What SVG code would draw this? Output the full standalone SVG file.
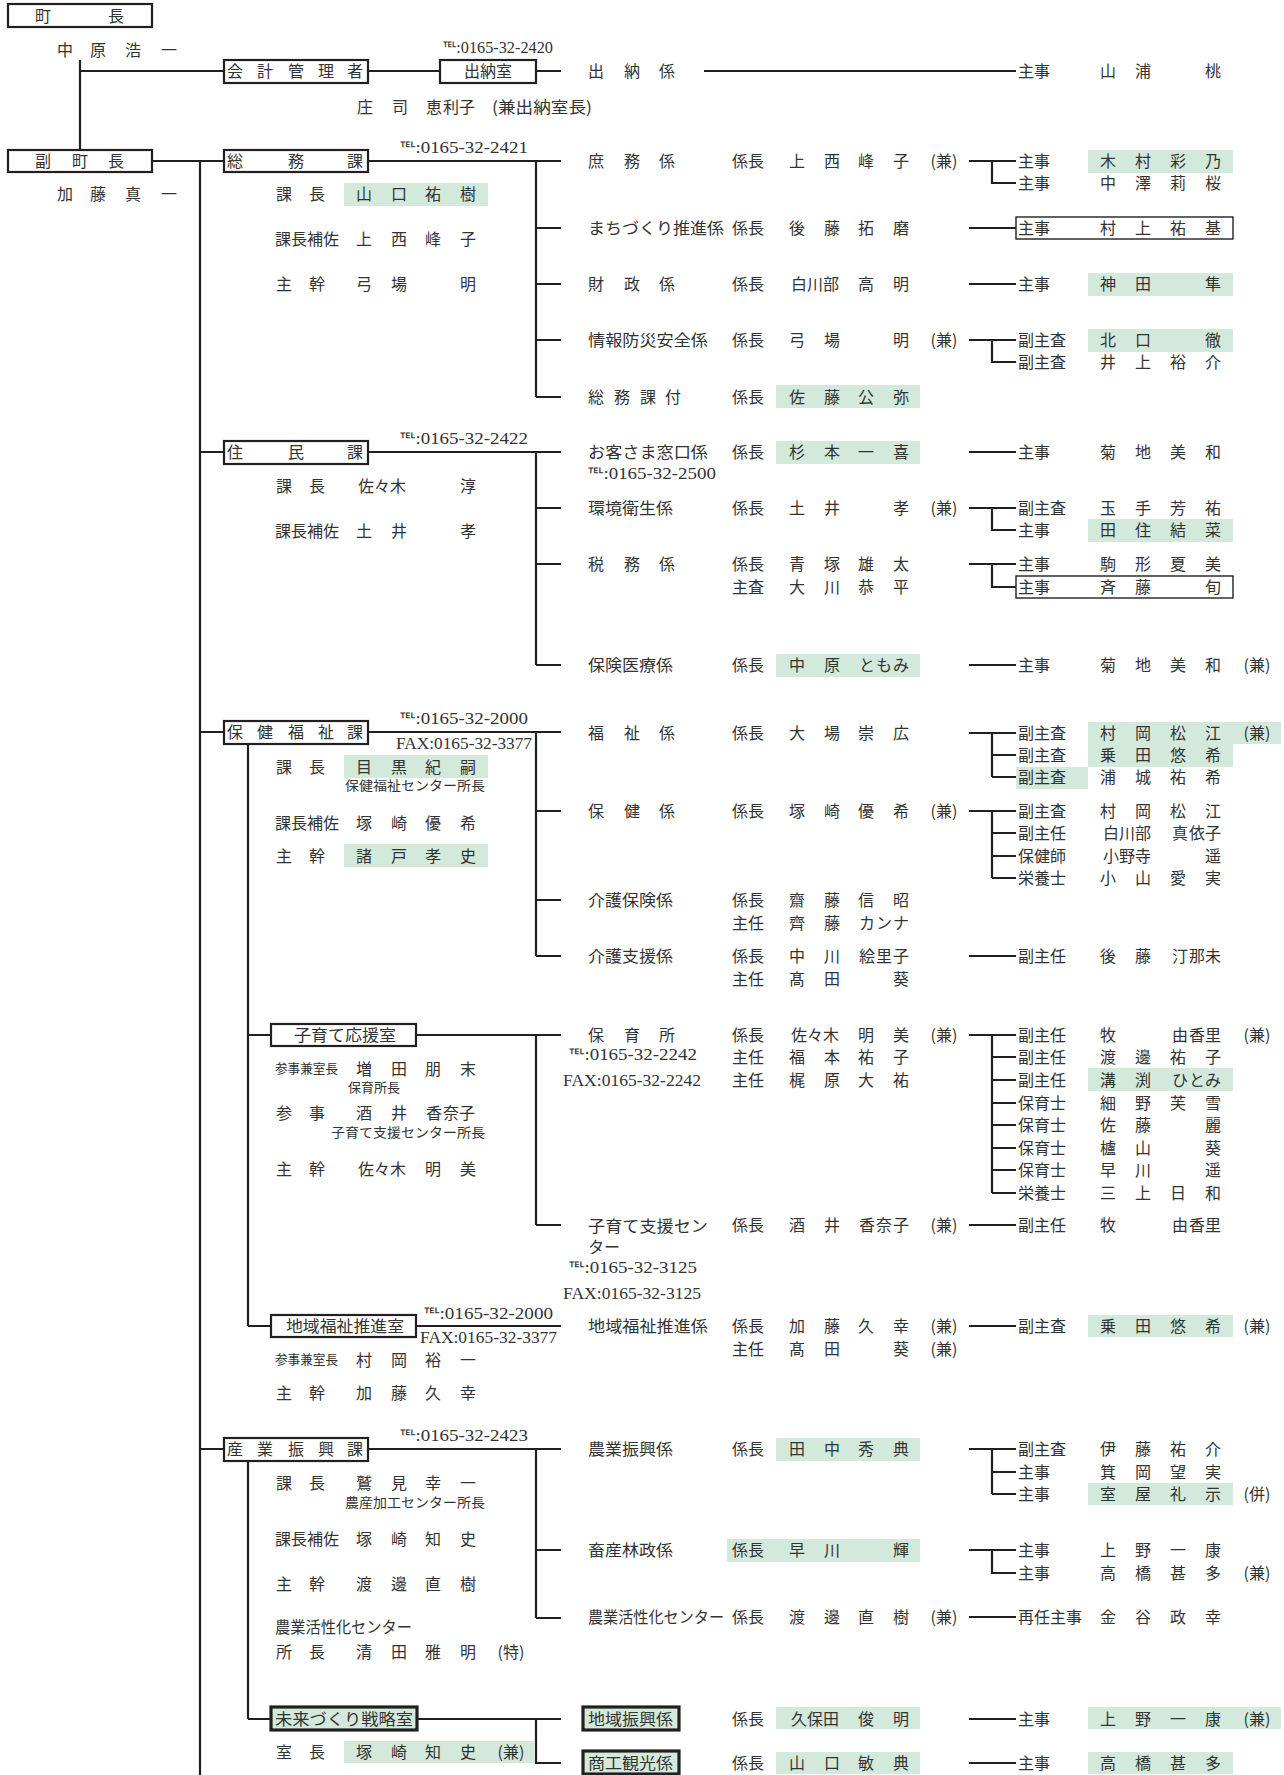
<svg xmlns="http://www.w3.org/2000/svg" width="1284" height="1775" viewBox="0 0 1284 1775">
<style>
.t{font-family:"Noto Sans CJK JP","Noto Sans CJK SC",sans-serif;font-size:16px;fill:#333;text-anchor:middle;dominant-baseline:central;transform:translateY(-1.5px)}
.l{text-anchor:start}
.s{font-size:13px}
.tel{font-family:"Liberation Serif","DejaVu Serif",serif;font-size:16px;fill:#333;text-anchor:start;dominant-baseline:central}
.ln{stroke:#231f20;stroke-width:2.2;fill:none}
.bx{fill:#fff;stroke:#231f20;stroke-width:2.2}
.gb{fill:#d3e9dc;stroke:#231f20;stroke-width:3.2}
.hl{fill:#d3e9dc}
.tb{fill:none;stroke:#231f20;stroke-width:1.4}
</style>
<rect width="1284" height="1775" fill="#fff"/>

<g id="connectors">
<path class="ln" d="M80 60V150M80 71H224M368 71H440M536 71H561M704 71H1016"/>
<path class="ln" d="M152 161H224M200 161V1775"/>
<path class="ln" d="M368 161H561M536 161V397M536 228H561M536 284H561M536 340H561M536 397H561"/>
<path class="ln" d="M200 452H224M368 452H561M536 452V665M536 508H561M536 564H561M536 665H561"/>
<path class="ln" d="M200 732H224M368 732H561M536 732V956M536 811H561M536 900H561M536 956H561"/>
<path class="ln" d="M248 744V1326M248 1035H271M248 1326H271"/>
<path class="ln" d="M416 1035H561M536 1035V1225M536 1225H561"/>
<path class="ln" d="M416 1326H561"/>
<path class="ln" d="M200 1449H224M368 1449H561M536 1449V1618M536 1550H561M536 1618H561"/>
<path class="ln" d="M248 1461V1719M248 1719H271M417 1719H561M536 1719V1763H561"/>
<path class="ln" d="M969 161H1016M992 161V183H1016"/>
<path class="ln" d="M969 228H1016M969 284H1016"/>
<path class="ln" d="M969 340H1016M992 340V362H1016"/>
<path class="ln" d="M969 452H1016"/>
<path class="ln" d="M969 508H1016M992 508V530H1016"/>
<path class="ln" d="M969 564H1016M992 564V587H1016"/>
<path class="ln" d="M969 665H1016"/>
<path class="ln" d="M969 733H1016M992 733V777M992 755H1016M992 777H1016"/>
<path class="ln" d="M969 811H1016M992 811V878M992 833H1016M992 856H1016M992 878H1016"/>
<path class="ln" d="M969 956H1016"/>
<path class="ln" d="M969 1035H1016M992 1035V1193M992 1057H1016M992 1080H1016M992 1103H1016M992 1125H1016M992 1148H1016M992 1170H1016M992 1193H1016"/>
<path class="ln" d="M969 1225H1016M969 1326H1016"/>
<path class="ln" d="M969 1449H1016M992 1449V1494M992 1472H1016M992 1494H1016"/>
<path class="ln" d="M969 1550H1016M992 1550V1573H1016"/>
<path class="ln" d="M969 1617H1016M969 1719H1016M969 1763H1016"/>
</g>

<g id="chocho">
<rect class="bx" x="8" y="4" width="144" height="23"/>
<text class="t" x="43 116" y="16">町長</text>
<text class="t" x="65 98 133 169" y="50">中原浩一</text>
</g>

<g id="fukuchocho">
<rect class="bx" x="8" y="150" width="144" height="22"/>
<text class="t" x="43 80 116" y="161">副町長</text>
<text class="t" x="65 98 133 169" y="194">加藤真一</text>
</g>

<g id="kaikei">
<rect class="bx" x="224" y="60" width="144" height="23"/>
<text class="t" x="235 265 296 326 355" y="71">会計管理者</text>
<text class="t" x="365 400 434 451 467" y="107">庄司恵利子</text>
<text class="t l" x="492" y="107" textLength="100" lengthAdjust="spacingAndGlyphs">(兼出納室長)</text>
</g>

<g id="suitoushitsu">
<rect class="bx" x="440" y="60" width="96" height="23"/>
<text class="t" x="488" y="71">出納室</text>
<text class="tel" x="443" y="47" font-size="14" textLength="110" lengthAdjust="spacingAndGlyphs">℡:0165-32-2420</text>
</g>

<g id="suitougakari">
<text class="t" x="596 632 667" y="71">出納係</text>
<text class="t" x="1026 1042" y="71">主事</text>
<text class="t" x="1108 1143 1213" y="71">山浦桃</text>
</g>

<g id="somuka">
<rect class="bx" x="224" y="150" width="144" height="22"/>
<text class="t" x="235 296 355" y="161">総務課</text>
<text class="tel" x="400" y="147" textLength="128" lengthAdjust="spacingAndGlyphs">℡:0165-32-2421</text>
<rect class="hl" x="344" y="183" width="144" height="23"/>
<text class="t" x="284 317" y="194">課長</text>
<text class="t" x="364 399 433 468" y="194">山口祐樹</text>
<text class="t" x="283 299 315 331" y="239">課長補佐</text>
<text class="t" x="364 399 433 468" y="239">上西峰子</text>
<text class="t" x="284 317" y="284">主幹</text>
<text class="t" x="364 399 468" y="284">弓場明</text>
</g>

<g id="shomu">
<rect class="hl" x="1088" y="150" width="145" height="23"/>
<text class="t" x="596 632 667" y="161">庶務係</text>
<text class="t" x="740 756" y="161">係長</text>
<text class="t" x="797 832 866 901" y="161">上西峰子</text>
<text class="t" x="944" y="161">(兼)</text>
<text class="t" x="1026 1042" y="161">主事</text>
<text class="t" x="1108 1143 1178 1213" y="161">木村彩乃</text>
<text class="t" x="1026 1042" y="183">主事</text>
<text class="t" x="1108 1143 1178 1213" y="183">中澤莉桜</text>
</g>

<g id="machizukuri">
<text class="t l" x="588" y="228" textLength="136" lengthAdjust="spacingAndGlyphs">まちづくり推進係</text>
<text class="t" x="740 756" y="228">係長</text>
<text class="t" x="797 832 866 901" y="228">後藤拓磨</text>
<rect class="tb" x="1016" y="217" width="217" height="22"/>
<text class="t" x="1026 1042" y="228">主事</text>
<text class="t" x="1108 1143 1178 1213" y="228">村上祐基</text>
</g>

<g id="zaisei">
<rect class="hl" x="1088" y="273" width="145" height="23"/>
<text class="t" x="596 632 667" y="284">財政係</text>
<text class="t" x="740 756" y="284">係長</text>
<text class="t" x="799 815 831 866 901" y="284">白川部高明</text>
<text class="t" x="1026 1042" y="284">主事</text>
<text class="t" x="1108 1143 1213" y="284">神田隼</text>
</g>

<g id="johobosai">
<rect class="hl" x="1088" y="329" width="145" height="23"/>
<text class="t l" x="588" y="340" textLength="120" lengthAdjust="spacingAndGlyphs">情報防災安全係</text>
<text class="t" x="740 756" y="340">係長</text>
<text class="t" x="797 832 901" y="340">弓場明</text>
<text class="t" x="944" y="340">(兼)</text>
<text class="t" x="1026 1042 1058" y="340">副主査</text>
<text class="t" x="1108 1143 1213" y="340">北口徹</text>
<text class="t" x="1026 1042 1058" y="362">副主査</text>
<text class="t" x="1108 1143 1178 1213" y="362">井上裕介</text>
</g>

<g id="somukatsuki">
<rect class="hl" x="776" y="385" width="144" height="23"/>
<text class="t" x="596 622 648 673" y="397">総務課付</text>
<text class="t" x="740 756" y="397">係長</text>
<text class="t" x="797 832 866 901" y="397">佐藤公弥</text>
</g>

<g id="juminka">
<rect class="bx" x="224" y="441" width="144" height="23"/>
<text class="t" x="235 296 355" y="452">住民課</text>
<text class="tel" x="400" y="438" textLength="128" lengthAdjust="spacingAndGlyphs">℡:0165-32-2422</text>
<text class="t" x="284 317" y="486">課長</text>
<text class="t" x="366 382 398 468" y="486">佐々木淳</text>
<text class="t" x="283 299 315 331" y="531">課長補佐</text>
<text class="t" x="364 399 468" y="531">土井孝</text>
</g>

<g id="okyakusama">
<rect class="hl" x="776" y="441" width="144" height="23"/>
<text class="t l" x="588" y="452" textLength="120" lengthAdjust="spacingAndGlyphs">お客さま窓口係</text>
<text class="tel" x="588" y="473" textLength="128" lengthAdjust="spacingAndGlyphs">℡:0165-32-2500</text>
<text class="t" x="740 756" y="452">係長</text>
<text class="t" x="797 832 866 901" y="452">杉本一喜</text>
<text class="t" x="1026 1042" y="452">主事</text>
<text class="t" x="1108 1143 1178 1213" y="452">菊地美和</text>
</g>

<g id="kankyo">
<rect class="hl" x="1088" y="519" width="145" height="23"/>
<text class="t l" x="588" y="508" textLength="85" lengthAdjust="spacingAndGlyphs">環境衛生係</text>
<text class="t" x="740 756" y="508">係長</text>
<text class="t" x="797 832 901" y="508">土井孝</text>
<text class="t" x="944" y="508">(兼)</text>
<text class="t" x="1026 1042 1058" y="508">副主査</text>
<text class="t" x="1108 1143 1178 1213" y="508">玉手芳祐</text>
<text class="t" x="1026 1042" y="530">主事</text>
<text class="t" x="1108 1143 1178 1213" y="530">田住結菜</text>
</g>

<g id="zeimu">
<text class="t" x="596 632 667" y="564">税務係</text>
<text class="t" x="740 756" y="564">係長</text>
<text class="t" x="797 832 866 901" y="564">青塚雄太</text>
<text class="t" x="740 756" y="587">主査</text>
<text class="t" x="797 832 866 901" y="587">大川恭平</text>
<text class="t" x="1026 1042" y="564">主事</text>
<text class="t" x="1108 1143 1178 1213" y="564">駒形夏美</text>
<rect class="tb" x="1016" y="576" width="217" height="22"/>
<text class="t" x="1026 1042" y="587">主事</text>
<text class="t" x="1108 1143 1213" y="587">斉藤旬</text>
</g>

<g id="hokeniryo">
<rect class="hl" x="776" y="654" width="144" height="23"/>
<text class="t l" x="588" y="665" textLength="85" lengthAdjust="spacingAndGlyphs">保険医療係</text>
<text class="t" x="740 756" y="665">係長</text>
<text class="t" x="797 832 867 884 901" y="665">中原ともみ</text>
<text class="t" x="1026 1042" y="665">主事</text>
<text class="t" x="1108 1143 1178 1213" y="665">菊地美和</text>
<text class="t" x="1257" y="665">(兼)</text>
</g>

<g id="hokenfukushika">
<rect class="bx" x="224" y="721" width="144" height="23"/>
<text class="t" x="235 265 296 326 355" y="732">保健福祉課</text>
<text class="tel" x="400" y="718" textLength="128" lengthAdjust="spacingAndGlyphs">℡:0165-32-2000</text>
<text class="tel" x="396" y="743" textLength="136" lengthAdjust="spacingAndGlyphs">FAX:0165-32-3377</text>
<rect class="hl" x="344" y="755" width="144" height="23"/>
<text class="t" x="284 317" y="767">課長</text>
<text class="t" x="364 399 433 468" y="767">目黒紀嗣</text>
<text class="t s l" x="345" y="786" textLength="140" lengthAdjust="spacingAndGlyphs">保健福祉センター所長</text>
<text class="t" x="283 299 315 331" y="823">課長補佐</text>
<text class="t" x="364 399 433 468" y="823">塚崎優希</text>
<rect class="hl" x="344" y="844" width="144" height="23"/>
<text class="t" x="284 317" y="856">主幹</text>
<text class="t" x="364 399 433 468" y="856">諸戸孝史</text>
</g>

<g id="fukushi">
<rect class="hl" x="1088" y="722" width="193" height="22"/>
<rect class="hl" x="1088" y="744" width="145" height="23"/>
<rect class="hl" x="1016" y="767" width="72" height="22"/>
<text class="t" x="596 632 667" y="733">福祉係</text>
<text class="t" x="740 756" y="733">係長</text>
<text class="t" x="797 832 866 901" y="733">大場崇広</text>
<text class="t" x="1026 1042 1058" y="733">副主査</text>
<text class="t" x="1108 1143 1178 1213" y="733">村岡松江</text>
<text class="t" x="1257" y="733">(兼)</text>
<text class="t" x="1026 1042 1058" y="755">副主査</text>
<text class="t" x="1108 1143 1178 1213" y="755">乗田悠希</text>
<text class="t" x="1026 1042 1058" y="777">副主査</text>
<text class="t" x="1108 1143 1178 1213" y="777">浦城祐希</text>
</g>

<g id="hoken">
<text class="t" x="596 632 667" y="811">保健係</text>
<text class="t" x="740 756" y="811">係長</text>
<text class="t" x="797 832 866 901" y="811">塚崎優希</text>
<text class="t" x="944" y="811">(兼)</text>
<text class="t" x="1026 1042 1058" y="811">副主査</text>
<text class="t" x="1108 1143 1178 1213" y="811">村岡松江</text>
<text class="t" x="1026 1042 1058" y="833">副主任</text>
<text class="t" x="1111 1127 1143 1180 1197 1213" y="833">白川部真依子</text>
<text class="t" x="1026 1042 1058" y="856">保健師</text>
<text class="t" x="1111 1127 1143 1213" y="856">小野寺遥</text>
<text class="t" x="1026 1042 1058" y="878">栄養士</text>
<text class="t" x="1108 1143 1178 1213" y="878">小山愛実</text>
</g>

<g id="kaigohoken">
<text class="t l" x="588" y="900" textLength="85" lengthAdjust="spacingAndGlyphs">介護保険係</text>
<text class="t" x="740 756" y="900">係長</text>
<text class="t" x="797 832 866 901" y="900">齋藤信昭</text>
<text class="t" x="740 756" y="923">主任</text>
<text class="t" x="797 832 867 884 901" y="923">齊藤カンナ</text>
</g>

<g id="kaigoshien">
<text class="t l" x="588" y="956" textLength="85" lengthAdjust="spacingAndGlyphs">介護支援係</text>
<text class="t" x="740 756" y="956">係長</text>
<text class="t" x="797 832 867 884 901" y="956">中川絵里子</text>
<text class="t" x="740 756" y="979">主任</text>
<text class="t" x="797 832 901" y="979">髙田葵</text>
<text class="t" x="1026 1042 1058" y="956">副主任</text>
<text class="t" x="1108 1143 1180 1197 1213" y="956">後藤汀那未</text>
</g>

<g id="kosodate">
<rect class="bx" x="271" y="1024" width="145" height="22"/>
<text class="t l" x="294" y="1035" textLength="102" lengthAdjust="spacingAndGlyphs">子育て応援室</text>
<text class="t s l" x="275" y="1069" font-size="12" textLength="63" lengthAdjust="spacingAndGlyphs">参事兼室長</text>
<text class="t" x="364 399 433 468" y="1069">増田朋末</text>
<text class="t s" x="374" y="1088">保育所長</text>
<text class="t" x="284 317" y="1113">参事</text>
<text class="t" x="364 399 434 451 467" y="1113">酒井香奈子</text>
<text class="t s l" x="331" y="1133" textLength="154" lengthAdjust="spacingAndGlyphs">子育て支援センター所長</text>
<text class="t" x="284 317" y="1169">主幹</text>
<text class="t" x="366 382 398 433 468" y="1169">佐々木明美</text>
</g>

<g id="hoikusho">
<rect class="hl" x="1088" y="1068" width="145" height="23"/>
<text class="t" x="596 632 667" y="1035">保育所</text>
<text class="tel" x="569" y="1054" textLength="128" lengthAdjust="spacingAndGlyphs">℡:0165-32-2242</text>
<text class="tel" x="563" y="1080" textLength="138" lengthAdjust="spacingAndGlyphs">FAX:0165-32-2242</text>
<text class="t" x="740 756" y="1035">係長</text>
<text class="t" x="799 815 831 866 901" y="1035">佐々木明美</text>
<text class="t" x="944" y="1035">(兼)</text>
<text class="t" x="740 756" y="1057">主任</text>
<text class="t" x="797 832 866 901" y="1057">福本祐子</text>
<text class="t" x="740 756" y="1080">主任</text>
<text class="t" x="797 832 866 901" y="1080">梶原大祐</text>
<text class="t" x="1026 1042 1058" y="1035">副主任</text>
<text class="t" x="1108 1180 1197 1213" y="1035">牧由香里</text>
<text class="t" x="1257" y="1035">(兼)</text>
<text class="t" x="1026 1042 1058" y="1057">副主任</text>
<text class="t" x="1108 1143 1178 1213" y="1057">渡邊祐子</text>
<text class="t" x="1026 1042 1058" y="1080">副主任</text>
<text class="t" x="1108 1143 1180 1197 1213" y="1080">溝渕ひとみ</text>
<text class="t" x="1026 1042 1058" y="1103">保育士</text>
<text class="t" x="1108 1143 1178 1213" y="1103">細野芙雪</text>
<text class="t" x="1026 1042 1058" y="1125">保育士</text>
<text class="t" x="1108 1143 1213" y="1125">佐藤麗</text>
<text class="t" x="1026 1042 1058" y="1148">保育士</text>
<text class="t" x="1108 1143 1213" y="1148">櫨山葵</text>
<text class="t" x="1026 1042 1058" y="1170">保育士</text>
<text class="t" x="1108 1143 1213" y="1170">早川遥</text>
<text class="t" x="1026 1042 1058" y="1193">栄養士</text>
<text class="t" x="1108 1143 1178 1213" y="1193">三上日和</text>
</g>

<g id="kosodateshien">
<text class="t l" x="588" y="1226" font-size="14.5" textLength="120" lengthAdjust="spacingAndGlyphs">子育て支援セン</text>
<text class="t l" x="588" y="1247" font-size="14.5">ター</text>
<text class="tel" x="569" y="1267" textLength="128" lengthAdjust="spacingAndGlyphs">℡:0165-32-3125</text>
<text class="tel" x="563" y="1293" textLength="138" lengthAdjust="spacingAndGlyphs">FAX:0165-32-3125</text>
<text class="t" x="740 756" y="1225">係長</text>
<text class="t" x="797 832 867 884 901" y="1225">酒井香奈子</text>
<text class="t" x="944" y="1225">(兼)</text>
<text class="t" x="1026 1042 1058" y="1225">副主任</text>
<text class="t" x="1108 1180 1197 1213" y="1225">牧由香里</text>
</g>

<g id="chiikifukushishitsu">
<rect class="bx" x="271" y="1315" width="145" height="22"/>
<text class="t l" x="286" y="1326" textLength="118" lengthAdjust="spacingAndGlyphs">地域福祉推進室</text>
<text class="tel" x="424" y="1313" textLength="129" lengthAdjust="spacingAndGlyphs">℡:0165-32-2000</text>
<text class="tel" x="420" y="1337" textLength="137" lengthAdjust="spacingAndGlyphs">FAX:0165-32-3377</text>
<text class="t s l" x="275" y="1360" font-size="12" textLength="63" lengthAdjust="spacingAndGlyphs">参事兼室長</text>
<text class="t" x="364 399 433 468" y="1360">村岡裕一</text>
<text class="t" x="284 317" y="1393">主幹</text>
<text class="t" x="364 399 433 468" y="1393">加藤久幸</text>
</g>

<g id="chiikifukushigakari">
<rect class="hl" x="1088" y="1315" width="145" height="22"/>
<text class="t l" x="588" y="1326" textLength="120" lengthAdjust="spacingAndGlyphs">地域福祉推進係</text>
<text class="t" x="740 756" y="1326">係長</text>
<text class="t" x="797 832 866 901" y="1326">加藤久幸</text>
<text class="t" x="944" y="1326">(兼)</text>
<text class="t" x="740 756" y="1349">主任</text>
<text class="t" x="797 832 901" y="1349">髙田葵</text>
<text class="t" x="944" y="1349">(兼)</text>
<text class="t" x="1026 1042 1058" y="1326">副主査</text>
<text class="t" x="1108 1143 1178 1213" y="1326">乗田悠希</text>
<text class="t" x="1257" y="1326">(兼)</text>
</g>

<g id="sangyoshinkoka">
<rect class="bx" x="224" y="1438" width="144" height="23"/>
<text class="t" x="235 265 296 326 355" y="1449">産業振興課</text>
<text class="tel" x="400" y="1435" textLength="128" lengthAdjust="spacingAndGlyphs">℡:0165-32-2423</text>
<text class="t" x="284 317" y="1483">課長</text>
<text class="t" x="364 399 433 468" y="1483">鷲見幸一</text>
<text class="t s l" x="345" y="1503" textLength="140" lengthAdjust="spacingAndGlyphs">農産加工センター所長</text>
<text class="t" x="283 299 315 331" y="1539">課長補佐</text>
<text class="t" x="364 399 433 468" y="1539">塚崎知史</text>
<text class="t" x="284 317" y="1584">主幹</text>
<text class="t" x="364 399 433 468" y="1584">渡邊直樹</text>
<text class="t l" x="275" y="1627" font-size="14.5" textLength="137" lengthAdjust="spacingAndGlyphs">農業活性化センター</text>
<text class="t" x="284 317" y="1652">所長</text>
<text class="t" x="364 399 433 468" y="1652">清田雅明</text>
<text class="t" x="511" y="1652">(特)</text>
</g>

<g id="nogyoshinko">
<rect class="hl" x="776" y="1438" width="144" height="23"/>
<rect class="hl" x="1088" y="1483" width="145" height="22"/>
<text class="t l" x="588" y="1449" textLength="85" lengthAdjust="spacingAndGlyphs">農業振興係</text>
<text class="t" x="740 756" y="1449">係長</text>
<text class="t" x="797 832 866 901" y="1449">田中秀典</text>
<text class="t" x="1026 1042 1058" y="1449">副主査</text>
<text class="t" x="1108 1143 1178 1213" y="1449">伊藤祐介</text>
<text class="t" x="1026 1042" y="1472">主事</text>
<text class="t" x="1108 1143 1178 1213" y="1472">箕岡望実</text>
<text class="t" x="1026 1042" y="1494">主事</text>
<text class="t" x="1108 1143 1178 1213" y="1494">室屋礼示</text>
<text class="t" x="1257" y="1494">(併)</text>
</g>

<g id="chikusanrinsei">
<rect class="hl" x="727" y="1539" width="193" height="23"/>
<text class="t l" x="588" y="1550" textLength="85" lengthAdjust="spacingAndGlyphs">畜産林政係</text>
<text class="t" x="740 756" y="1550">係長</text>
<text class="t" x="797 832 901" y="1550">早川輝</text>
<text class="t" x="1026 1042" y="1550">主事</text>
<text class="t" x="1108 1143 1178 1213" y="1550">上野一康</text>
<text class="t" x="1026 1042" y="1573">主事</text>
<text class="t" x="1108 1143 1178 1213" y="1573">高橋甚多</text>
<text class="t" x="1257" y="1573">(兼)</text>
</g>

<g id="nogyokasseika">
<text class="t l" x="588" y="1617" font-size="14.5" textLength="136" lengthAdjust="spacingAndGlyphs">農業活性化センター</text>
<text class="t" x="740 756" y="1617">係長</text>
<text class="t" x="797 832 866 901" y="1617">渡邊直樹</text>
<text class="t" x="944" y="1617">(兼)</text>
<text class="t l" x="1018" y="1617" font-size="15" textLength="64" lengthAdjust="spacingAndGlyphs">再任主事</text>
<text class="t" x="1108 1143 1178 1213" y="1617">金谷政幸</text>
</g>

<g id="miraizukuri">
<rect class="gb" x="271" y="1707" width="146" height="23"/>
<text class="t l" x="275" y="1719" textLength="138" lengthAdjust="spacingAndGlyphs">未来づくり戦略室</text>
<rect class="hl" x="344" y="1741" width="190" height="22"/>
<text class="t" x="284 317" y="1752">室長</text>
<text class="t" x="364 399 433 468" y="1752">塚崎知史</text>
<text class="t" x="511" y="1752">(兼)</text>
</g>

<g id="chiikishinko">
<rect class="gb" x="583" y="1707" width="96" height="23"/>
<text class="t l" x="588" y="1719" textLength="85" lengthAdjust="spacingAndGlyphs">地域振興係</text>
<rect class="hl" x="776" y="1707" width="144" height="22"/>
<rect class="hl" x="1088" y="1707" width="193" height="22"/>
<text class="t" x="740 756" y="1719">係長</text>
<text class="t" x="799 815 831 866 901" y="1719">久保田俊明</text>
<text class="t" x="1026 1042" y="1719">主事</text>
<text class="t" x="1108 1143 1178 1213" y="1719">上野一康</text>
<text class="t" x="1257" y="1719">(兼)</text>
</g>

<g id="shokokanko">
<rect class="gb" x="583" y="1751" width="96" height="23"/>
<text class="t l" x="588" y="1763" textLength="85" lengthAdjust="spacingAndGlyphs">商工観光係</text>
<rect class="hl" x="776" y="1752" width="144" height="22"/>
<rect class="hl" x="1088" y="1752" width="145" height="22"/>
<text class="t" x="740 756" y="1763">係長</text>
<text class="t" x="797 832 866 901" y="1763">山口敏典</text>
<text class="t" x="1026 1042" y="1763">主事</text>
<text class="t" x="1108 1143 1178 1213" y="1763">高橋甚多</text>
</g>
</svg>
